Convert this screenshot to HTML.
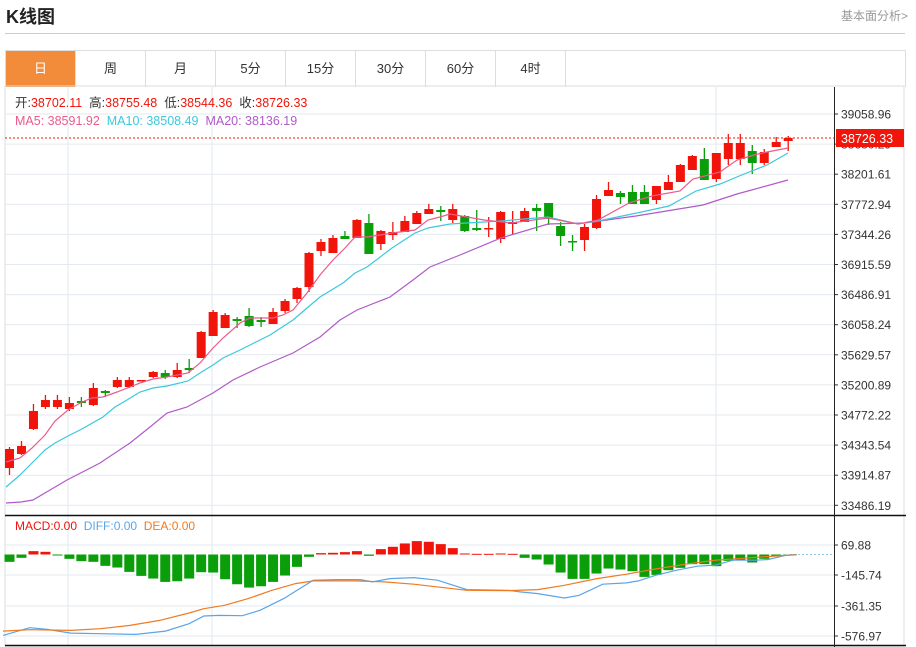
<!DOCTYPE html>
<html><head><meta charset="utf-8"><style>
body{margin:0;background:#fff;width:916px;height:647px;overflow:hidden;font-family:"Liberation Sans","Noto Sans CJK SC",sans-serif;position:relative}
.t{position:absolute;left:6px;top:3px;font-size:18px;font-weight:bold;color:#222}
.r{position:absolute;right:8px;top:7px;font-size:12px;color:#999}
.sep{position:absolute;left:5px;top:33px;width:900px;height:1px;background:#ccc}
.tabs{position:absolute;left:5px;top:50px;width:899px;height:36px;border:1px solid #ddd;border-bottom:none}
.tab{position:absolute;top:0;width:69px;height:36px;border-right:1px solid #ddd;text-align:center;line-height:36px;font-size:13px;color:#333}
svg{position:absolute;left:0;top:0}
</style></head><body>
<div class="t">K线图</div><div class="r">基本面分析&gt;</div><div class="sep"></div>
<div class="tabs">
<div class="tab" style="left:0;background:#f28c3b;color:#fff">日</div>
<div class="tab" style="left:70px">周</div><div class="tab" style="left:140px">月</div>
<div class="tab" style="left:210px">5分</div><div class="tab" style="left:280px">15分</div>
<div class="tab" style="left:350px">30分</div><div class="tab" style="left:420px">60分</div>
<div class="tab" style="left:490px">4时</div></div>
<svg id="s" width="916" height="647" xmlns="http://www.w3.org/2000/svg" font-family="Liberation Sans, Noto Sans CJK SC, sans-serif"></svg>
<script>
var s=document.getElementById('s'),h='';
h+='<rect x="5" y="86" width="899" height="560" fill="none" stroke="#ddd"/>';
var lab=['39058.96','38630.29','38201.61','37772.94','37344.26','36915.59','36486.91','36058.24','35629.57','35200.89','34772.22','34343.54','33914.87','33486.19'];
for(var i=0;i<14;i++){var y=114+i*30.1;h+='<line x1="5" x2="834" y1="'+y+'" y2="'+y+'" stroke="#e3e9ef"/><line x1="834" x2="838" y1="'+y+'" y2="'+y+'" stroke="#333"/><text x="841" y="'+(y+4.5)+'" font-size="12" fill="#333">'+lab[i]+'</text>';}
[68,212,716].forEach(function(x){h+='<line x1="'+x+'" x2="'+x+'" y1="87" y2="645" stroke="#e3e9ef"/>';});
var my=[545,575,606,636],ml=['69.88','-145.74','-361.35','-576.97'];
for(i=0;i<4;i++){h+='<line x1="5" x2="834" y1="'+my[i]+'" y2="'+my[i]+'" stroke="#e3e9ef"/><line x1="834" x2="838" y1="'+my[i]+'" y2="'+my[i]+'" stroke="#333"/><text x="841" y="'+(my[i]+4.5)+'" font-size="12" fill="#333">'+ml[i]+'</text>';}
h+='<line x1="5" x2="906" y1="515.5" y2="515.5" stroke="#111" stroke-width="1.5"/><line x1="5" x2="906" y1="645.5" y2="645.5" stroke="#111" stroke-width="1.5"/><line x1="834.5" x2="834.5" y1="87" y2="647" stroke="#222"/>';
var C=[[449,468,447,475,0],[446,454,441,455,0],[411,429,404,430,0],[400,407,395,409,0],[400,407,395,409,0],[403,409,397,411,0],[401,403,397,407,1],[388,405,383,406,0],[391,393,390,397,1],[380,387,377,388,0],[380,387,377,388,0],[380,381,380,381,0],[372,377,371,378,0],[373,377,370,379,1],[370,377,363,378,0],[368,370,359,373,1],[332,358,331,358,0],[312,336,310,336,0],[315,328,313,328,0],[319,321,317,328,1],[316,326,308,327,1],[320,322,317,327,1],[312,324,308,324,0],[301,311,299,313,0],[288,299,287,303,0],[253,287,252,292,0],[242,251,239,256,0],[238,253,235,253,0],[236,239,231,239,1],[220,238,219,238,0],[223,254,214,254,1],[231,244,230,250,0],[232,235,222,240,0],[221,232,216,232,0],[213,224,211,224,0],[209,214,204,214,0],[210,212,206,221,1],[209,220,204,223,0],[216,231,215,232,1],[228,230,210,231,1],[228,229,217,237,0],[212,239,211,243,0],[222,224,211,235,0],[211,222,208,222,0],[208,211,204,231,1],[203,219,203,225,1],[226,236,222,246,1],[241,242,235,251,1],[227,240,224,251,0],[199,228,195,229,0],[190,196,182,196,0],[193,197,191,204,1],[192,204,185,204,1],[192,204,185,204,1],[186,200,186,204,0],[182,190,175,190,0],[165,182,164,182,0],[156,170,155,170,0],[159,180,148,180,1],[153,179,153,182,0],[143,159,134,165,0],[143,159,134,165,0],[151,163,145,174,1],[152,163,149,165,0],[142,147,137,147,0],[138,141,136,151,0]];
function X(i){return 9.5+11.98*i;}
for(i=0;i<C.length;i++){var c=C[i],x=X(i),col=c[4]?'#0a9e0a':'#f0140a';
h+='<line x1="'+x+'" x2="'+x+'" y1="'+c[2]+'" y2="'+c[3]+'" stroke="'+col+'" stroke-width="1.3"/><rect x="'+(x-4.5)+'" y="'+c[0]+'" width="9" height="'+Math.max(1.5,c[1]-c[0])+'" fill="'+col+'"/>';}
function pl(pts,col,w){return '<polyline fill="none" stroke="'+col+'" stroke-width="'+(w||1.2)+'" points="'+pts.map(function(p){return p.join(',')}).join(' ')+'"/>';}
h+=pl([[6,503],[21,502],[33,500],[50,490],[67,480],[100,463],[130,443],[150,427],[167,413],[187,407],[213,393],[233,380],[260,367],[293,353],[320,337],[340,320],[357,310],[390,297],[413,280],[430,267],[460,255],[501,238],[548,224],[585,223],[636,216],[703,205],[737,194],[788,180]],'#b05ac8');
h+=pl([[6,487],[20,475],[33,462],[45,450],[55,443],[68,436],[80,430],[103,417],[115,407],[127,400],[140,392],[153,388],[167,386],[188,381],[200,373],[213,365],[223,358],[240,350],[270,335],[293,320],[307,308],[320,297],[343,283],[355,273],[367,267],[392,248],[415,233],[428,228],[450,224],[501,221],[548,217],[578,224],[598,221],[632,214],[669,206],[696,191],[720,184],[744,174],[767,165],[788,153]],'#3cc8dc');
h+=pl([[6,462],[20,458],[32,448],[45,435],[55,421],[68,410],[82,402],[92,398],[103,397],[117,392],[130,387],[140,383],[153,379],[167,377],[188,373],[200,363],[213,348],[223,338],[240,323],[250,318],[273,318],[283,315],[293,310],[307,293],[320,275],[333,260],[345,248],[355,237],[367,237],[380,235],[392,233],[415,230],[428,220],[440,217],[450,214],[484,220],[511,223],[548,218],[578,224],[598,220],[629,203],[652,196],[680,191],[693,179],[720,172],[737,160],[754,155],[767,152],[788,148]],'#ec5a8c');
h+='<line x1="5" x2="834" y1="138" y2="138" stroke="#f0140a" stroke-dasharray="2,2"/><rect x="836" y="129" width="68" height="18" fill="#f0140a"/><text x="841" y="143" font-size="12.5" fill="#fff">38726.33</text>';
var B=[155,143,123,125,136,146,153,155,167,172,185,197,205,215,213,205,186,187,207,222,232,228,215,196,170,140,129,128,126,123,137,117,110,100,93,95,102,114,130,131,131,130,131,143,148,163,187,206,206,190,175,178,183,200,194,180,173,162,162,168,152,150,157,146,138,135];
var z=554.5;
for(i=0;i<B.length;i++){var yy=B[i]/2.99+510,x=X(i);var g=yy>z;h+='<rect x="'+(x-5)+'" y="'+Math.min(yy,z)+'" width="10" height="'+Math.max(1,Math.abs(yy-z))+'" fill="'+(g?'#0a9e0a':'#f0140a')+'"/>';}
h+='<line x1="790" x2="834" y1="554.5" y2="554.5" stroke="#8cc8ee" stroke-dasharray="2,2"/>';
function cv(a){return a.map(function(p){return [+(p[0]/1.692).toFixed(1),+(p[1]/2.99+510).toFixed(1)];});}
h+=pl(cv([[5,375],[50,352],[80,357],[120,368],[170,370],[230,372],[280,362],[320,340],[345,317],[370,315],[410,316],[440,300],[480,265],[530,210],[570,208],[610,208],[630,215],[660,205],[700,202],[740,210],[790,238],[860,240],[880,245],[910,250],[955,263],[980,255],[1020,222],[1060,218],[1080,212],[1110,195],[1145,180],[1180,168],[1210,165],[1240,150],[1280,150],[1300,148],[1330,135],[1348,133]]),'#5aa5e8');
h+=pl(cv([[5,362],[50,358],[120,360],[170,355],[220,345],[270,330],[320,308],[345,295],[380,285],[420,265],[460,240],[500,220],[530,212],[600,212],[650,215],[700,222],[790,240],[860,241],[910,238],[955,225],[1010,205],[1060,192],[1110,176],[1160,162],[1210,150],[1260,144],[1300,139],[1348,134]]),'#f07a20');
h+='<text x="15" y="107" font-size="12.5" fill="#333" xml:space="preserve">开:<tspan fill="#f0140a">38702.11</tspan>  高:<tspan fill="#f0140a">38755.48</tspan>  低:<tspan fill="#f0140a">38544.36</tspan>  收:<tspan fill="#f0140a">38726.33</tspan></text>';
h+='<text x="15" y="125" font-size="12.5" xml:space="preserve"><tspan fill="#ec5a8c">MA5: 38591.92</tspan>  <tspan fill="#3cc8dc">MA10: 38508.49</tspan>  <tspan fill="#b05ac8">MA20: 38136.19</tspan></text>';
h+='<text x="15" y="530" font-size="12" xml:space="preserve"><tspan fill="#f0140a">MACD:0.00</tspan>  <tspan fill="#5aa5e8">DIFF:0.00</tspan>  <tspan fill="#f07a20">DEA:0.00</tspan></text>';
s.innerHTML=h;
</script>
</body></html>
